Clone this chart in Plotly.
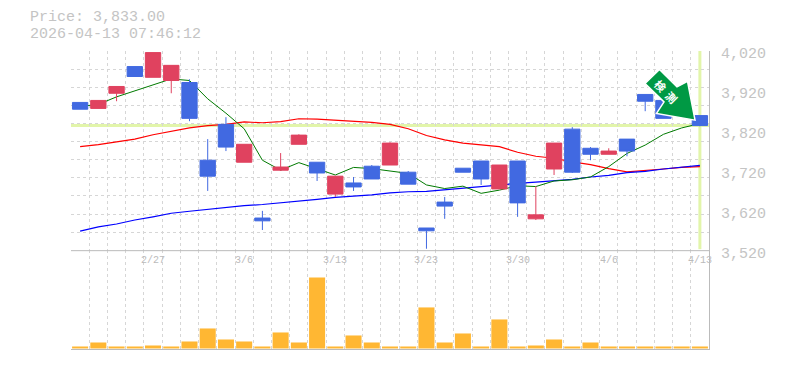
import plotly.graph_objects as go

dates = ["2/20","2/24","2/25","2/26","2/27","3/2","3/3","3/4","3/5","3/6","3/9","3/10","3/11","3/12","3/13",
         "3/16","3/17","3/18","3/19","3/23","3/24","3/25","3/26","3/27","3/30","3/31","4/1","4/2","4/3","4/6",
         "4/7","4/8","4/9","4/10","4/13"]
opens = [3891,3876,3914,3981,3954,3946,3941,3746,3836,3741,3601,3721,3786,3741,3661,3689,3731,3734,3716,3576,
         3641,3726,3744,3674,3744,3599,3724,3824,3776,3761,3799,3911,3896,3880,3858]
highs = [3891,3896,3931,3981,4016,3984,3949,3799,3854,3786,3619,3764,3811,3741,3706,3704,3734,3791,3719,3576,
         3654,3726,3744,3734,3744,3681,3789,3829,3779,3776,3799,3911,3896,3880,3858]
lows = [3874,3876,3894,3956,3954,3914,3844,3669,3769,3741,3571,3719,3786,3694,3654,3669,3699,3734,3686,3524,
        3599,3716,3684,3674,3604,3596,3709,3714,3746,3761,3756,3869,3851,3860,3831]
closes = [3874,3896,3931,3956,4016,3984,3851,3706,3779,3786,3594,3729,3809,3714,3706,3679,3699,3789,3686,3569,
          3631,3716,3699,3734,3639,3609,3789,3716,3761,3769,3769,3894,3851,3860,3833]
ma_green = [3881,3886,3905,3920,3936,3950,3946,3900,3864,3825,3746,3721,3740,3725,3709,3728,3725,3719,3713,3684,
            3675,3681,3663,3671,3682,3680,3694,3697,3704,3730,3763,3784,3811,3827,3838]
ma_red = [3780,3785,3792,3799,3810,3819,3827,3833,3836,3842,3840,3843,3850,3849,3846,3843,3841,3836,3825,3808,
          3797,3789,3784,3780,3766,3756,3751,3742,3735,3725,3717,3720,3724,3728,3730]
ma_blue = [3568,3579,3586,3596,3604,3613,3618,3623,3628,3632,3635,3639,3644,3648,3653,3656,3659,3664,3667,3668,
           3672,3677,3681,3685,3688,3691,3695,3698,3704,3708,3715,3718,3724,3729,3733]
volumes = [2,6,2,2,3,2,7,20,9,7,2,16,6,71,2,13,6,2,2,41,6,15,2,29,2,3,9,2,6,2,2,2,2,2,2]
y_ticks = [3520,3620,3720,3820,3920,4020]
x_labels = ["2/27","3/6","3/13","3/23","3/30","4/6","4/13"]
current_price = 3833
header = ["Price: 3,833.00","2026-04-13 07:46:12"]

W, H = 785, 370
L, R, T, B = 71, 709, 50.5, 350
GRID = "#d6d6d6"
DASH = "3px,3px"
MONO = "Liberation Mono"
pos = list(range(len(dates)))
last = pos[-1]
fig = go.Figure()
fig.add_trace(go.Scatter(x=pos, y=ma_red, mode="lines", line=dict(color="#ff0000", width=1.2), xaxis="x", yaxis="y"))
fig.add_trace(go.Scatter(x=pos, y=ma_blue, mode="lines", line=dict(color="#0000ff", width=1.2), xaxis="x", yaxis="y"))
fig.add_trace(go.Scatter(x=pos, y=ma_green, mode="lines", line=dict(color="#007a00", width=1), xaxis="x", yaxis="y"))
fig.add_trace(go.Candlestick(x=pos, open=opens, high=highs, low=lows, close=closes, xaxis="x3", yaxis="y3",
    whiskerwidth=0,
    increasing=dict(line=dict(color="#e0425f", width=1), fillcolor="#e0425f"),
    decreasing=dict(line=dict(color="#4169e1", width=1), fillcolor="#4169e1")))
fig.add_trace(go.Bar(x=pos, y=volumes, marker=dict(color="#ffb733", line=dict(width=0)), width=0.88,
                     xaxis="x2", yaxis="y2"))

minor_x = dict(tickmode="linear", tick0=-0.5, dtick=1, showgrid=True, gridcolor=GRID, griddash=DASH, gridwidth=1, ticks="")
def px(x): return (x - L) / (R - L)
def py(y): return 1 - (y - T) / (B - T)

arrow = [(645,83),(659.5,69),(677,86.5),(687.5,81),(695,119.8),(656.5,113),(664,101.5)]
path = "M " + " L ".join(f"{px(a):.4f},{py(b):.4f}" for a, b in arrow) + " Z"

def head(text, y):
    return dict(text=text, xref="paper", yref="paper", x=px(28), y=py(y), xanchor="left", yanchor="middle",
                showarrow=False, font=dict(family=MONO,size=15,color="#c4c4c4"))
def kanji(text, x, y):
    return dict(text=f"<b>{text}</b>", xref="paper", yref="paper", x=px(x), y=py(y), textangle=45,
                xanchor="center", yanchor="middle", showarrow=False,
                font=dict(family="Noto Sans CJK JP",size=11,color="#ffffff"))
def xlab(text):
    return dict(text=text, xref="x2", yref="paper", x=dates.index(text), y=py(260.5), xanchor="center", yanchor="middle",
                showarrow=False, font=dict(family=MONO,size=10,color="#bbbbbb"))

fig.update_layout(
    width=W, height=H, autosize=False, showlegend=False, paper_bgcolor="#ffffff", plot_bgcolor="#ffffff",
    margin=dict(l=L, r=W-R, t=T, b=H-B, autoexpand=False), boxgap=0.16, boxgroupgap=0,
    font=dict(family=MONO, color="#c4c4c4"),
    xaxis=dict(domain=[0,1], range=[-0.5,last+0.5], anchor="y", showgrid=False, zeroline=False,
               tickmode="array", tickvals=[], ticktext=[], minor=minor_x),
    xaxis3=dict(overlaying="x", range=[-0.5,last+0.5], anchor="y3", visible=False, rangeslider=dict(visible=False)),
    xaxis2=dict(domain=[0,1], range=[-0.5,last+0.5], anchor="y2", showgrid=False, zeroline=False,
                tickmode="array", tickvals=[], ticktext=[], minor=minor_x),
    yaxis=dict(domain=[1/3,1], range=[3520,4020], side="right", zeroline=False, showgrid=False,
               tickmode="array", tickvals=y_ticks, ticktext=[f"{v:,}" for v in y_ticks],
               tickfont=dict(family=MONO,size=15,color="#c4c4c4"), ticks="", ticklabelstandoff=8, ticklabelshift=2,
               showline=True, linecolor="#bbbbbb", linewidth=1,
               minor=dict(tickmode="linear", tick0=3520, dtick=500/11, showgrid=True, gridcolor=GRID, griddash=DASH, gridwidth=1, ticks="")),
    yaxis3=dict(overlaying="y", range=[3520,4020], anchor="x3", side="right", visible=False),
    yaxis2=dict(domain=[0,1/3], range=[-1.5,98], side="right", zeroline=False, showgrid=False, showticklabels=False,
                ticks="", showline=True, linecolor="#bbbbbb", linewidth=1),
    shapes=[
        dict(type="line", xref="x", yref="paper", x0=last, x1=last, y0=py(249), y1=1, line=dict(color="#e2f5aa", width=3), layer="below"),
        dict(type="line", xref="paper", yref="y", x0=0, x1=1, y0=current_price, y1=current_price, line=dict(color="#e2f5aa", width=3), layer="below"),
        dict(type="line", xref="paper", yref="paper", x0=0, x1=1, y0=py(250.5), y1=py(250.5), line=dict(color="#bbbbbb", width=1)),
        dict(type="line", xref="paper", yref="paper", x0=0, x1=1, y0=py(349.5), y1=py(349.5), line=dict(color="#bbbbbb", width=1)),
        dict(type="path", xref="paper", yref="paper", path=path, fillcolor="#009944", line=dict(color="#ffffff", width=1.5), layer="above"),
    ],
    annotations=[head(header[0], 17), head(header[1], 34), kanji("検", 660, 85), kanji("測", 671.5, 97)]
                + [xlab(t) for t in x_labels],
)
fig.write_html("out.html", config={"displayModeBar": False}, post_script="document.body.style.margin='0';")
